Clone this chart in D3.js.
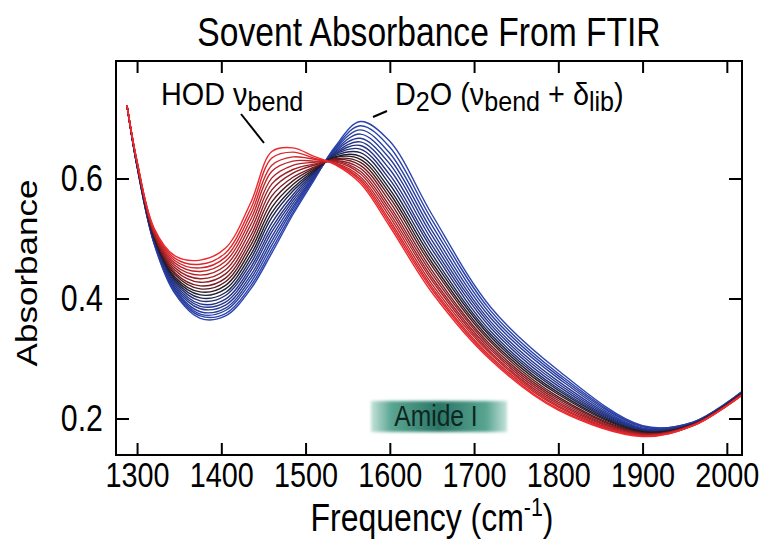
<!DOCTYPE html>
<html lang="en">
<head>
<meta charset="UTF-8" />
<title>Sovent Absorbance From FTIR</title>
<script src="https://cdn.jsdelivr.net/npm/d3@7"></script>
<style>
  body { margin: 0; background: #fff; }
  svg text { font-family: "Liberation Sans", Arial, Helvetica, sans-serif; fill: #000; }
</style>
</head>
<body>
<svg id="chart" width="759" height="540"></svg>
<script>
// frequency grid (cm-1) the spectra were read at
const freq = [1288, 1300, 1320, 1345, 1375, 1405, 1435, 1460, 1485, 1510,
              1535, 1565, 1600, 1650, 1720, 1800, 1900, 1960, 2018];

// one row per spectrum, first = blue, last = red
const absorbance = [
  [0.722, 0.620, 0.492, 0.408, 0.367, 0.371, 0.416, 0.476, 0.540, 0.597, 0.653, 0.695, 0.662, 0.540, 0.385, 0.280, 0.188, 0.194, 0.245],
  [0.722, 0.620, 0.493, 0.410, 0.371, 0.375, 0.421, 0.482, 0.544, 0.599, 0.651, 0.688, 0.652, 0.531, 0.379, 0.275, 0.187, 0.194, 0.245],
  [0.722, 0.621, 0.494, 0.413, 0.374, 0.380, 0.427, 0.489, 0.549, 0.600, 0.649, 0.681, 0.642, 0.522, 0.373, 0.271, 0.186, 0.193, 0.244],
  [0.722, 0.621, 0.495, 0.415, 0.378, 0.384, 0.433, 0.496, 0.553, 0.602, 0.647, 0.674, 0.633, 0.513, 0.367, 0.267, 0.184, 0.193, 0.244],
  [0.722, 0.621, 0.496, 0.418, 0.383, 0.389, 0.439, 0.503, 0.558, 0.603, 0.645, 0.667, 0.624, 0.505, 0.361, 0.262, 0.183, 0.192, 0.243],
  [0.722, 0.622, 0.497, 0.421, 0.387, 0.394, 0.446, 0.511, 0.563, 0.605, 0.643, 0.661, 0.615, 0.497, 0.356, 0.258, 0.182, 0.192, 0.243],
  [0.722, 0.622, 0.499, 0.424, 0.391, 0.399, 0.452, 0.518, 0.568, 0.607, 0.641, 0.655, 0.606, 0.489, 0.351, 0.254, 0.181, 0.192, 0.243],
  [0.722, 0.623, 0.500, 0.427, 0.396, 0.405, 0.459, 0.526, 0.573, 0.609, 0.640, 0.649, 0.598, 0.482, 0.345, 0.250, 0.180, 0.191, 0.242],
  [0.722, 0.623, 0.501, 0.430, 0.401, 0.410, 0.466, 0.535, 0.579, 0.611, 0.638, 0.643, 0.590, 0.474, 0.340, 0.247, 0.179, 0.191, 0.242],
  [0.722, 0.624, 0.502, 0.433, 0.406, 0.416, 0.473, 0.543, 0.584, 0.613, 0.636, 0.637, 0.582, 0.467, 0.336, 0.243, 0.178, 0.191, 0.242],
  [0.722, 0.624, 0.504, 0.436, 0.411, 0.422, 0.481, 0.552, 0.590, 0.615, 0.635, 0.632, 0.575, 0.460, 0.331, 0.240, 0.177, 0.190, 0.241],
  [0.722, 0.625, 0.505, 0.440, 0.416, 0.428, 0.489, 0.561, 0.596, 0.617, 0.633, 0.627, 0.568, 0.454, 0.327, 0.236, 0.176, 0.190, 0.241],
  [0.722, 0.625, 0.507, 0.443, 0.421, 0.434, 0.497, 0.571, 0.602, 0.619, 0.632, 0.622, 0.561, 0.447, 0.322, 0.233, 0.175, 0.190, 0.241],
  [0.722, 0.626, 0.508, 0.447, 0.427, 0.441, 0.505, 0.581, 0.609, 0.622, 0.630, 0.617, 0.554, 0.441, 0.318, 0.230, 0.174, 0.189, 0.240],
  [0.722, 0.626, 0.510, 0.451, 0.433, 0.448, 0.514, 0.591, 0.615, 0.624, 0.629, 0.612, 0.548, 0.435, 0.314, 0.227, 0.174, 0.189, 0.240],
  [0.722, 0.627, 0.511, 0.455, 0.439, 0.455, 0.523, 0.601, 0.622, 0.627, 0.628, 0.608, 0.542, 0.430, 0.310, 0.224, 0.173, 0.189, 0.240],
  [0.722, 0.627, 0.513, 0.459, 0.445, 0.462, 0.532, 0.612, 0.629, 0.629, 0.626, 0.603, 0.536, 0.424, 0.307, 0.221, 0.172, 0.189, 0.240],
  [0.722, 0.628, 0.515, 0.463, 0.451, 0.469, 0.541, 0.622, 0.636, 0.632, 0.625, 0.599, 0.530, 0.419, 0.303, 0.219, 0.171, 0.188, 0.239],
  [0.722, 0.628, 0.516, 0.467, 0.457, 0.476, 0.550, 0.634, 0.644, 0.634, 0.624, 0.596, 0.525, 0.415, 0.300, 0.216, 0.171, 0.188, 0.239],
  [0.722, 0.629, 0.518, 0.471, 0.464, 0.484, 0.560, 0.645, 0.651, 0.637, 0.623, 0.592, 0.520, 0.410, 0.297, 0.214, 0.170, 0.188, 0.239]
];

const xTicks = [1300, 1400, 1500, 1600, 1700, 1800, 1900, 2000];
const yTicks = [0.2, 0.4, 0.6];

const svg = d3.select("#chart");
const plotLeft = 116, plotRight = 742, plotTop = 61, plotBottom = 455;
const sx = 0.82; // the original figure is squeezed horizontally

const x = d3.scaleLinear().domain([1275, 2018]).range([plotLeft, plotRight]);
const y = d3.scaleLinear().domain([0.1392, 0.7958]).range([plotBottom, plotTop]);

const n = absorbance.length - 1;
const color = d3.scaleLinear()
  .domain([0, n * 0.36, n * 0.5, n * 0.64, n])
  .range(["#2c45b0", "#23307e", "#1c1a1f", "#7e1c22", "#ef2a2f"])
  .interpolate(d3.interpolateRgb);

function label(px, py, str, size, anchor, scaleX) {
  return svg.append("text")
    .attr("transform", "translate(" + px + "," + py + ") scale(" + (scaleX || sx) + ",1)")
    .attr("text-anchor", anchor || "start")
    .attr("font-size", size)
    .text(str);
}

// Amide I marker
const defs = svg.append("defs");
const grad = defs.append("linearGradient").attr("id", "amide");
grad.append("stop").attr("offset", "0%").attr("stop-color", "#c4e2d9");
grad.append("stop").attr("offset", "15%").attr("stop-color", "#5aa592");
grad.append("stop").attr("offset", "50%").attr("stop-color", "#2a7565");
grad.append("stop").attr("offset", "85%").attr("stop-color", "#5aa592");
grad.append("stop").attr("offset", "100%").attr("stop-color", "#c4e2d9");
defs.append("filter").attr("id", "soft")
  .append("feGaussianBlur").attr("stdDeviation", 1.8);

svg.append("rect")
  .attr("x", 371).attr("y", 401).attr("width", 136).attr("height", 31)
  .attr("fill", "url(#amide)")
  .attr("filter", "url(#soft)");
label(436, 426, "Amide I", 30, "middle").style("fill", "#0e2621");

// spectra
const line = d3.line()
  .x((d, i) => x(freq[i]))
  .y(d => y(d))
  .curve(d3.curveCatmullRom.alpha(0.5));

svg.append("g")
  .selectAll("path")
  .data(absorbance)
  .enter()
  .append("path")
  .attr("d", line)
  .attr("fill", "none")
  .attr("stroke", (d, i) => color(i))
  .attr("stroke-width", 1.4);

// axes, ticks pointing inward on all four sides
const xAxis = svg.append("g")
  .attr("transform", "translate(0," + plotBottom + ")")
  .call(d3.axisBottom(x).tickValues(xTicks).tickSize(-12).tickPadding(6).tickFormat(d3.format("d")));
const yAxis = svg.append("g")
  .attr("transform", "translate(" + plotLeft + ",0)")
  .call(d3.axisLeft(y).tickValues(yTicks).tickSize(-13).tickFormat(d3.format(".1f")));
svg.append("g")
  .attr("transform", "translate(0," + plotTop + ")")
  .call(d3.axisTop(x).tickValues(xTicks).tickSize(-12).tickFormat(""));
svg.append("g")
  .attr("transform", "translate(" + plotRight + ",0)")
  .call(d3.axisRight(y).tickValues(yTicks).tickSize(-13).tickFormat(""));

svg.selectAll(".domain").remove();
svg.selectAll(".tick line").attr("stroke", "#000").attr("stroke-width", 2);
svg.selectAll("g").attr("font-family", null);

xAxis.selectAll(".tick text")
  .attr("font-size", 36)
  .attr("transform", "scale(0.8,1)");
yAxis.selectAll(".tick text")
  .attr("font-size", 37)
  .attr("x", 0)
  .attr("transform", "translate(-13,0) scale(" + sx + ",1)");

svg.append("rect")
  .attr("x", plotLeft).attr("y", plotTop)
  .attr("width", plotRight - plotLeft).attr("height", plotBottom - plotTop)
  .attr("fill", "none")
  .attr("stroke", "#000")
  .attr("stroke-width", 2);

// title and axis titles
label(429, 46, "Sovent Absorbance From FTIR", 41, "middle");

const xt = svg.append("text")
  .attr("transform", "translate(432,531) scale(" + sx + ",1)")
  .attr("text-anchor", "middle")
  .attr("font-size", 39);
xt.append("tspan").text("Frequency (cm");
xt.append("tspan").attr("font-size", 26).attr("dy", -15).text("-1");
xt.append("tspan").attr("dy", 15).text(")");

svg.append("text")
  .attr("transform", "translate(37,273) scale(" + sx + ",1) rotate(-90)")
  .attr("text-anchor", "middle")
  .attr("font-size", 35)
  .text("Absorbance");

// band annotations: main text with lowered subscripts
function annotate(px, py, parts) {
  const t = svg.append("text")
    .attr("transform", "translate(" + px + "," + py + ") scale(0.93,1)")
    .attr("font-size", 31);
  let shift = 0;
  parts.forEach(p => {
    const dy = (p[1] ? 6 : 0) - shift;
    shift += dy;
    t.append("tspan")
      .attr("dy", dy)
      .attr("font-size", p[1] ? 27 : 31)
      .text(p[0]);
  });
  return t;
}

annotate(161, 105, [["HOD \u03bd", false], ["bend", true]]);
svg.append("line")
  .attr("x1", 241).attr("y1", 114).attr("x2", 264).attr("y2", 143)
  .attr("stroke", "#000").attr("stroke-width", 2);

annotate(395, 105, [["D", false], ["2", true], ["O (\u03bd", false], ["bend", true],
                    [" + \u03b4", false], ["lib", true], [")", false]]);
svg.append("line")
  .attr("x1", 373).attr("y1", 117).attr("x2", 387).attr("y2", 111)
  .attr("stroke", "#000").attr("stroke-width", 2);
</script>
</body>
</html>
